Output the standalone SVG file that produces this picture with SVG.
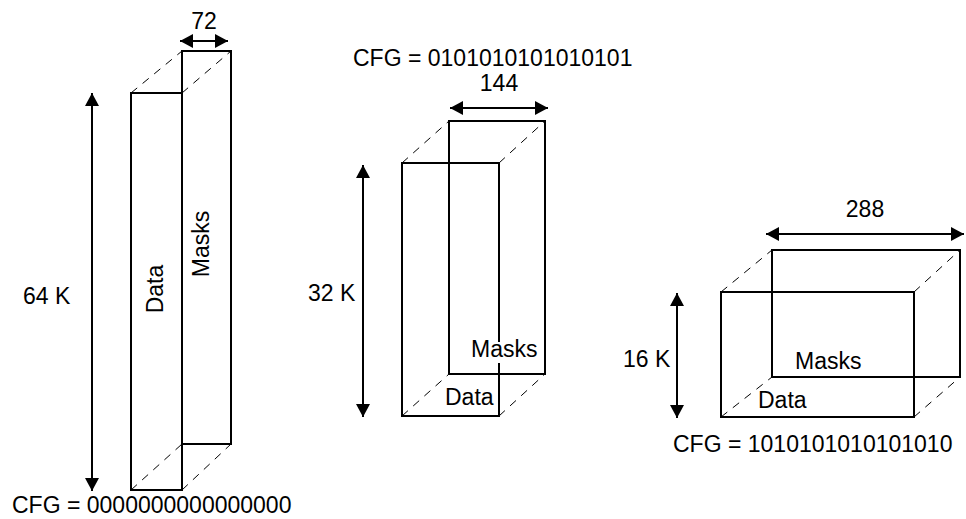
<svg xmlns="http://www.w3.org/2000/svg" width="966" height="519" viewBox="0 0 966 519">
<defs>
<marker id="ah" markerUnits="userSpaceOnUse" markerWidth="14" markerHeight="14" refX="13" refY="7" orient="auto-start-reverse" viewBox="0 0 14 14">
<path d="M0,0 L13,7 L0,14 z" fill="#000"/>
</marker>
<style>
.box{fill:none;stroke:#000;stroke-width:2}
.dash{fill:none;stroke:#000;stroke-width:1;stroke-dasharray:8,7}
.dim{fill:none;stroke:#000;stroke-width:2;marker-start:url(#ah);marker-end:url(#ah)}
text{font-family:"Liberation Sans",Arial,sans-serif;font-size:23px;fill:#000}
.mid{text-anchor:middle}
</style>
</defs>
<rect width="966" height="519" fill="#fff"/>

<g id="block64k">
<path class="dash" d="M131,93 L182,51 M182,93 L231,51 M131,490 L182,444 M182,490 L231,444"/>
<rect class="box" x="131" y="93" width="51" height="397"/>
<rect class="box" x="182" y="51" width="49" height="393"/>
<text transform="translate(163,289) rotate(-90)" class="mid">Data</text>
<text transform="translate(209,244) rotate(-90)" class="mid">Masks</text>
<text x="23" y="304">64 K</text>
<text x="204" y="29" class="mid">72</text>
<text x="12" y="513">CFG = 0000000000000000</text>
</g>

<g id="block32k">
<path class="dash" d="M402,163 L449,121 M499,163 L545,121 M402,416 L449,374 M499,416 L545,374"/>
<rect class="box" x="449" y="121" width="96" height="253"/>
<rect class="box" x="402" y="163" width="97" height="253"/>
<rect x="469" y="342" width="72" height="21" fill="#fff"/>
<text x="471" y="357">Masks</text>
<text x="445" y="405">Data</text>
<text x="308" y="301">32 K</text>
<text x="499" y="91" class="mid">144</text>
<text x="353" y="66">CFG = 0101010101010101</text>
</g>

<g id="block16k">
<path class="dash" d="M721,292 L772,250 M914,292 L960,250 M721,417 L772,377 M914,417 L960,377"/>
<rect class="box" x="772" y="250" width="188" height="127"/>
<rect class="box" x="721" y="292" width="193" height="125"/>
<text x="795" y="369">Masks</text>
<text x="758" y="408">Data</text>
<text x="623" y="367">16 K</text>
<text x="865" y="217" class="mid">288</text>
<text x="673" y="452">CFG = 1010101010101010</text>
</g>

<g id="connectors">
<line class="dim" x1="92" y1="93" x2="92" y2="491"/>
<line class="dim" x1="180" y1="41" x2="228" y2="41"/>
<line class="dim" x1="363" y1="165" x2="363" y2="417"/>
<line class="dim" x1="450" y1="108" x2="548" y2="108"/>
<line class="dim" x1="677" y1="293" x2="677" y2="418"/>
<line class="dim" x1="766" y1="234" x2="964" y2="234"/>
</g>
</svg>
